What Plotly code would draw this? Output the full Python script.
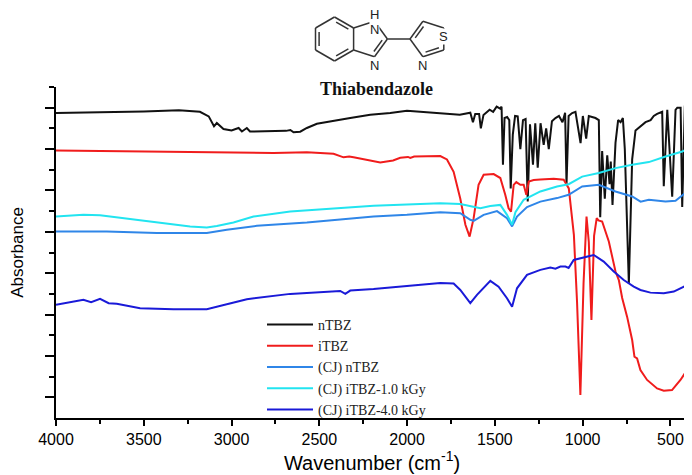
import plotly.graph_objects as go

# ---- data (wavenumber in cm-1, absorbance in offset units) ----
ntbz_wn = [4000, 3700, 3500, 3300, 3180, 3130, 3112, 3100, 3084, 3065, 3046, 3000, 2960, 2941,
           2913, 2895, 2690, 2665, 2647, 2609, 2571, 2514, 2438, 2324, 2210, 2096, 2001, 1906,
           1811, 1700, 1640, 1625, 1612, 1590, 1580, 1565, 1530, 1510, 1490, 1470, 1462, 1454,
           1445, 1430, 1418, 1410, 1398, 1385, 1370, 1355, 1340, 1325, 1313, 1300, 1283, 1270,
           1256, 1240, 1222, 1208, 1193, 1175, 1155, 1135, 1115, 1100, 1092, 1080, 1060, 1041,
           1012, 999, 980, 965, 927, 908, 900, 889, 874, 860, 847, 840, 830, 813, 798, 784,
           771, 760, 737, 718, 699, 670, 642, 613, 595, 576, 547, 538, 518, 490, 471, 461,
           442, 433, 418, 404]
ntbz_ab = [14.74, 14.77, 14.82, 14.88, 14.80, 14.58, 14.26, 14.10, 14.26, 14.10, 13.97, 13.90, 14.02, 13.85,
           14.02, 13.85, 13.88, 13.92, 13.81, 13.84, 14.02, 14.22, 14.34, 14.50, 14.66, 14.74, 14.85, 14.78,
           14.71, 14.66, 14.76, 14.30, 14.70, 14.70, 14.00, 14.65, 14.90, 14.80, 15.05, 14.95, 15.05, 12.24,
           14.50, 14.55, 14.40, 11.10, 13.70, 14.60, 14.58, 13.00, 14.40, 14.45, 10.47, 14.20, 12.24, 14.25,
           12.10, 14.25, 13.20, 14.00, 13.00, 14.35, 14.50, 14.60, 14.30, 14.75, 11.30, 14.60, 14.74, 14.80,
           13.29, 14.60, 13.50, 14.60, 14.50, 14.40, 9.70, 12.90, 10.60, 12.70, 11.30, 12.40, 10.30, 13.30, 14.40, 14.30,
           14.50, 13.00, 6.50, 12.50, 13.90, 14.10, 14.30, 14.40, 14.60, 14.70, 14.80, 11.20, 14.90, 10.70, 14.90, 15.00,
           15.00, 10.20, 15.10, 15.00]

itbz_wn = [4000, 3600, 3141, 2761, 2571, 2419, 2362, 2330, 2305, 2153, 2080, 2039, 1995, 1982, 1960,
           1811, 1773, 1735, 1697, 1668, 1644, 1621, 1593, 1564, 1507, 1469, 1441, 1422, 1408, 1393,
           1378, 1355, 1336, 1321, 1307, 1279, 1241, 1165, 1108, 1089, 1079, 1050, 1032, 1013, 995,
           978, 965, 950, 935, 920, 910, 889, 851, 813, 794, 775, 747, 718, 705, 690, 671, 633,
           576, 538, 491, 443, 405]
itbz_ab = [12.93, 12.88, 12.84, 12.81, 12.85, 12.77, 12.60, 12.64, 12.60, 12.35, 12.45, 12.58, 12.62, 12.57, 12.64,
           12.66, 12.50, 11.90, 10.60, 9.34, 8.77, 9.66, 11.27, 11.76, 11.79, 11.60, 10.79, 10.14, 9.98, 11.27,
           11.40, 11.27, 11.27, 10.79, 11.43, 11.50, 11.53, 11.56, 11.52, 11.27, 11.10, 8.85, 5.60, 1.11, 6.50,
           9.74, 8.50, 4.74, 8.80, 9.66, 9.55, 9.50, 8.53, 7.08, 6.67, 5.80, 4.90, 3.77, 2.96, 2.88, 2.32, 1.84,
           1.43, 1.32, 1.35, 1.84, 2.32]

cj_ntbz_wn = [4000, 3711, 3426, 3141, 3027, 2856, 2571, 2381, 2191, 2001, 1811, 1697, 1640, 1621, 1564,
              1488, 1431, 1402, 1374, 1317, 1241, 1146, 1080, 1003, 908, 813, 718, 670, 623, 528, 471, 404]
cj_ntbz_ab = [9.02, 9.02, 8.94, 8.94, 9.10, 9.29, 9.45, 9.61, 9.74, 9.82, 9.95, 9.90, 9.58, 9.53, 9.82,
              10.00, 9.66, 9.26, 9.74, 10.20, 10.46, 10.63, 10.79, 11.19, 11.27, 10.95, 10.71, 10.46, 10.55, 10.46, 10.50, 10.95]

cj_1kgy_wn = [4000, 3844, 3749, 3616, 3426, 3236, 3141, 3084, 2989, 2875, 2666, 2381, 2191, 2001, 1811,
              1697, 1583, 1526, 1469, 1431, 1402, 1383, 1336, 1241, 1146, 1080, 1003, 908, 813, 718, 623, 528, 433, 404]
cj_1kgy_ab = [9.74, 9.82, 9.80, 9.66, 9.45, 9.26, 9.21, 9.28, 9.45, 9.74, 9.98, 10.14, 10.26, 10.32, 10.38,
              10.34, 10.14, 10.25, 10.30, 9.82, 9.34, 9.95, 10.55, 10.95, 11.19, 11.30, 11.67, 11.84, 12.08, 12.24, 12.37, 12.64, 12.88, 13.00]

cj_4kgy_wn = [4000, 3900, 3844, 3800, 3749, 3700, 3654, 3521, 3331, 3141, 3046, 2913, 2666, 2381, 2352, 2324,
              2191, 2001, 1811, 1735, 1697, 1640, 1602, 1526, 1479, 1431, 1402, 1374, 1317, 1241, 1184, 1155,
              1127, 1098, 1080, 1051, 994, 937, 880, 823, 766, 709, 671, 614, 538, 481, 405]
cj_4kgy_ab = [5.47, 5.62, 5.71, 5.60, 5.76, 5.55, 5.52, 5.31, 5.26, 5.26, 5.47, 5.74, 6.00, 6.14, 6.00, 6.16,
              6.23, 6.39, 6.53, 6.50, 6.19, 5.55, 5.95, 6.63, 6.35, 5.79, 5.38, 6.27, 6.92, 7.16, 7.27, 7.22,
              7.32, 7.32, 7.25, 7.64, 7.77, 7.88, 7.56, 7.08, 6.67, 6.35, 6.19, 6.06, 6.03, 6.11, 6.43]

x_ticks = [4000, 3500, 3000, 2500, 2000, 1500, 1000, 500]

series = [
    ('nTBZ', ntbz_wn, ntbz_ab, '#111111'),
    ('iTBZ', itbz_wn, itbz_ab, '#f01c1c'),
    ('(CJ) nTBZ', cj_ntbz_wn, cj_ntbz_ab, '#2f86e8'),
    ('(CJ) iTBZ-1.0 kGy', cj_1kgy_wn, cj_1kgy_ab, '#22e4f0'),
    ('(CJ) iTBZ-4.0 kGy', cj_4kgy_wn, cj_4kgy_ab, '#1a1ad8'),
]

fig = go.Figure()
for name, wn, ab, color in series:
    fig.add_trace(go.Scatter(x=wn, y=ab, mode='lines', name=name,
                             line=dict(color=color, width=2)))

# page is drawn with the browser's 8px body margin
OFF = 8
W, H = 692 - OFF, 475 - OFF
L, R, T, B = 48, 4, 79, 57


def px(x, y):
    # page pixels -> paper coords of the plot area
    return (x - OFF - L) / (W - L - R), (H - B - (y - OFF)) / (H - T - B)


# ---- thiabendazole structure sketch (decoration) ----
benz = [(353.6, 28), (334.5, 17), (315.5, 28), (315.5, 50), (334.5, 61), (353.6, 50)]
n1, c2, n3 = (374.5, 21.2), (387.4, 39), (374.5, 56.8)
h_atom = (374.5, 6)
c4, c5, s_at, c2b, nb = (410, 39), (422.9, 21.2), (443.8, 28), (443.8, 50), (422.9, 56.8)

bonds = [(benz[i], benz[(i + 1) % 6]) for i in range(6)]
bonds += [(benz[0], n1), (n1, c2), (c2, n3), (n3, benz[5]), (n1, h_atom), (c2, c4),
          (c4, c5), (c5, s_at), (s_at, c2b), (c2b, nb), (nb, c4)]


def inner(p, q, centre, off=3.6, trim=0.18):
    # inner line of a double bond
    mx, my = (p[0] + q[0]) / 2, (p[1] + q[1]) / 2
    dx, dy = centre[0] - mx, centre[1] - my
    d = (dx ** 2 + dy ** 2) ** 0.5
    ox, oy = dx / d * off, dy / d * off
    a = (p[0] + (q[0] - p[0]) * trim + ox, p[1] + (q[1] - p[1]) * trim + oy)
    b = (q[0] - (q[0] - p[0]) * trim + ox, q[1] - (q[1] - p[1]) * trim + oy)
    return a, b


bc, ic, tc = (334.5, 39), (368.7, 39), (428.7, 39)
bonds += [inner(benz[2], benz[3], bc), inner(benz[0], benz[1], bc), inner(benz[4], benz[5], bc),
          inner(c2, n3, ic), inner(c4, c5, tc), inner(c2b, nb, tc)]

for p, q in bonds:
    x0, y0 = px(*p)
    x1, y1 = px(*q)
    fig.add_shape(type='line', xref='paper', yref='paper', x0=x0, y0=y0, x1=x1, y1=y1,
                  line=dict(color='#333333', width=1.5))

for lab, pos in [('N', n1), ('N', n3), ('H', h_atom), ('S', s_at), ('N', nb)]:
    ax_, ay_ = px(*pos)
    fig.add_annotation(x=ax_, y=ay_, xref='paper', yref='paper', text=lab, showarrow=False,
                       bgcolor='white', borderpad=0,
                       font=dict(family='Liberation Sans', size=13, color='#222222'))

tx, ty = px(376, 77)
fig.add_annotation(x=tx, y=ty, xref='paper', yref='paper', text='<b>Thiabendazole</b>',
                   showarrow=False, font=dict(family='Liberation Serif', size=18, color='#111111'))

lx, ly = px(262, 309)
fig.update_layout(
    width=W, height=H,
    margin=dict(l=L, r=R, t=T, b=B),
    paper_bgcolor='white', plot_bgcolor='white',
    showlegend=True,
    legend=dict(x=lx, y=ly, xanchor='left', yanchor='top', bgcolor='rgba(0,0,0,0)',
                font=dict(family='Liberation Serif', size=14, color='#222222'),
                itemwidth=46, tracegroupgap=0),
    xaxis=dict(
        range=[4000, 400], tickvals=x_ticks, ticktext=[str(v) for v in x_ticks],
        showgrid=False, zeroline=False, showline=True, linecolor='black', linewidth=2,
        ticks='outside', ticklen=6, tickwidth=1.5, tickcolor='black',
        minor=dict(tickvals=[3750, 3250, 2750, 2250, 1750, 1250, 750], ticks='outside',
                   ticklen=4, tickwidth=1.5, tickcolor='black'),
        tickfont=dict(family='Liberation Sans', size=16, color='black'),
        title=dict(text='Wavenumber (cm<sup>-1</sup>)', standoff=8,
                   font=dict(family='Liberation Sans', size=20, color='black')),
    ),
    yaxis=dict(
        range=[0, 16], tickvals=list(range(1, 16, 2)), showticklabels=False,
        showgrid=False, zeroline=False, showline=True, linecolor='black', linewidth=2,
        ticks='outside', ticklen=9, tickwidth=1.5, tickcolor='black',
        minor=dict(tickvals=list(range(2, 17, 2)), ticks='outside', ticklen=5,
                   tickwidth=1.5, tickcolor='black'),
        title=dict(text='Absorbance', standoff=18,
                   font=dict(family='Liberation Sans', size=17, color='black')),
    ),
)

fig.write_html("out.html")
